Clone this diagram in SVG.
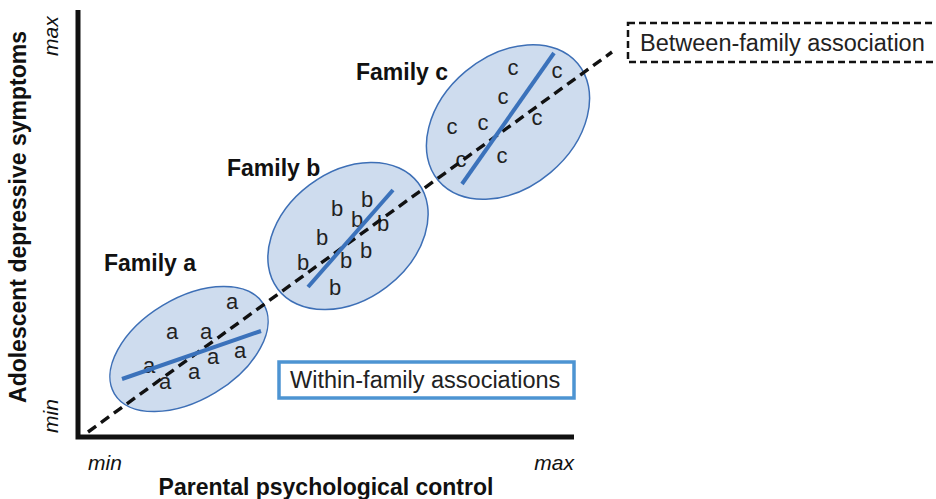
<svg xmlns="http://www.w3.org/2000/svg" width="936" height="499" viewBox="0 0 936 499">
  <style>
    .axis { stroke: #111; stroke-width: 5; fill: none; }
    .cluster { fill: #cedcee; stroke: #3d6fb6; stroke-width: 1.5; }
    .trend { stroke: #3b72bb; stroke-width: 4; }
    .between { stroke: #111; stroke-width: 3.4; stroke-dasharray: 10 6; fill: none; }
    .pt { font-family: "Liberation Sans", Arial, sans-serif; font-size: 22px; fill: #222; text-anchor: middle; }
    .fam { font-family: "Liberation Sans", Arial, sans-serif; font-size: 23px; font-weight: bold; fill: #111; }
    .lbl { font-family: "Liberation Sans", Arial, sans-serif; font-size: 23.5px; fill: #222; }
    .ax { font-family: "Liberation Sans", Arial, sans-serif; font-size: 23px; font-weight: bold; fill: #111; text-anchor: middle; }
    .rng { font-family: "Liberation Sans", Arial, sans-serif; font-size: 21px; font-style: italic; fill: #111; }
  </style>

  <rect width="936" height="499" fill="#ffffff"/>

  <!-- axes -->
  <g id="axes">
    <path class="axis" d="M78,10 V437 H574"/>
    <text class="ax" x="326" y="495">Parental psychological control</text>
    <text class="ax" transform="translate(26,217) rotate(-90)" font-size="23.5">Adolescent depressive symptoms</text>
    <text class="rng" x="88" y="470">min</text>
    <text class="rng" x="574" y="470" text-anchor="end">max</text>
    <text class="rng" transform="translate(58,433) rotate(-90)">min</text>
    <text class="rng" transform="translate(58,56) rotate(-90)">max</text>
  </g>

  <!-- family clusters -->
  <g id="family-a">
    <ellipse class="cluster" cx="189" cy="349" rx="87" ry="51" transform="rotate(-31 189 349)"/>
    <text class="pt" x="232" y="309">a</text>
    <text class="pt" x="172" y="339">a</text>
    <text class="pt" x="206" y="339">a</text>
    <text class="pt" x="149" y="373">a</text>
    <text class="pt" x="213" y="364">a</text>
    <text class="pt" x="240" y="358">a</text>
    <text class="pt" x="194" y="379">a</text>
    <text class="pt" x="165" y="389">a</text>
    <text class="fam" x="104" y="271">Family a</text>
  </g>

  <g id="family-b">
    <ellipse class="cluster" cx="348" cy="236" rx="88" ry="64" transform="rotate(-37 348 236)"/>
    <text class="pt" x="337" y="216">b</text>
    <text class="pt" x="367" y="207">b</text>
    <text class="pt" x="357" y="227">b</text>
    <text class="pt" x="383" y="231">b</text>
    <text class="pt" x="322" y="245">b</text>
    <text class="pt" x="366" y="258">b</text>
    <text class="pt" x="303" y="270">b</text>
    <text class="pt" x="346" y="268">b</text>
    <text class="pt" x="335" y="295">b</text>
    <text class="fam" x="227" y="176">Family b</text>
  </g>

  <g id="family-c">
    <ellipse class="cluster" cx="508" cy="122" rx="91" ry="66" transform="rotate(-40 508 122)"/>
    <text class="pt" x="513" y="75">c</text>
    <text class="pt" x="557" y="78">c</text>
    <text class="pt" x="503" y="104">c</text>
    <text class="pt" x="483" y="130">c</text>
    <text class="pt" x="452" y="134">c</text>
    <text class="pt" x="537" y="125">c</text>
    <text class="pt" x="461" y="167">c</text>
    <text class="pt" x="502" y="163">c</text>
    <text class="fam" x="356" y="80">Family c</text>
  </g>

  <!-- regression lines -->
  <g id="connectors">
    <line class="between" x1="88" y1="432" x2="612" y2="52"/>
    <line class="trend" x1="122" y1="379" x2="261" y2="331"/>
    <line class="trend" x1="308" y1="287" x2="393" y2="190"/>
    <line class="trend" x1="462" y1="184" x2="554" y2="53"/>
  </g>

  <!-- legend boxes -->
  <g id="within-label">
    <rect x="279" y="362" width="295" height="36" fill="#ffffff" stroke="#4d94d2" stroke-width="3.5"/>
    <text class="lbl" x="290" y="388">Within-family associations</text>
  </g>

  <g id="between-label">
    <rect x="628" y="23" width="320" height="39" fill="#ffffff" stroke="#111" stroke-width="2.5" stroke-dasharray="7 4"/>
    <text class="lbl" x="640" y="51">Between-family association</text>
  </g>
</svg>
